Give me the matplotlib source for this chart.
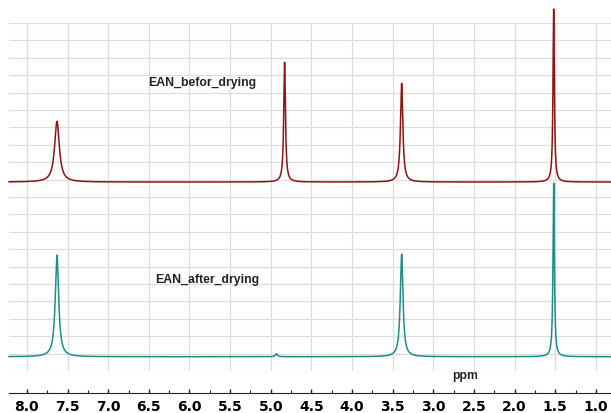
import matplotlib
matplotlib.use("Agg")
import matplotlib.pyplot as plt
import numpy as np
from matplotlib.ticker import MultipleLocator
from matplotlib.font_manager import FontProperties

plt.rcParams["font.weight"] = "bold"

# peak lists: position (ppm), height (grid units), width (ppm)
before_pos = [7.63, 4.83, 3.39, 1.52]
before_height = [3.49, 6.88, 5.67, 9.94]
before_width = [0.07, 0.025, 0.035, 0.02]

after_pos = [7.63, 4.93, 3.39, 1.52]
after_height = [5.84, 0.17, 5.90, 9.98]
after_width = [0.05, 0.03, 0.04, 0.02]

before_offset = 10.86
after_offset = 0.82

tick_labels = ["8.0", "7.5", "7.0", "6.5", "6.0", "5.5", "5.0", "4.5",
               "4.0", "3.5", "3.0", "2.5", "2.0", "1.5", "1.0"]


def spectrum(ppm, pos, height, width):
    y = np.zeros_like(ppm)
    for p, h, w in zip(pos, height, width):
        y += h / (1 + ((ppm - p) / (w / 2)) ** 2)
    return y


ppm = np.linspace(8.22, 0.815, 30000)

fig = plt.figure(figsize=(6.11, 4.14), dpi=100)
ax = fig.add_axes([9 / 611, 1 - 372 / 414, 602 / 611, 348 / 414])

ax.plot(ppm, before_offset + spectrum(ppm, before_pos, before_height, before_width),
        color="#8b1414", lw=1.1, clip_on=False, zorder=3)
ax.plot(ppm, after_offset + spectrum(ppm, after_pos, after_height, after_width),
        color="#1f8e86", lw=1.1, clip_on=False, zorder=3)

ax.set_xlim(8.22, 0.815)
ax.set_ylim(0, 20)
ax.xaxis.set_minor_locator(MultipleLocator(0.25))
ax.yaxis.set_major_locator(MultipleLocator(1))
ax.set_xticks([float(t) for t in tick_labels])
tick_font = FontProperties(family="DejaVu Sans", weight="bold", size=9)
ax.set_xticklabels(tick_labels, fontproperties=tick_font, color="#222222")
ax.tick_params(axis="x", which="major", direction="in", length=3, width=1, pad=4, color="#222222")
ax.tick_params(axis="x", which="minor", direction="in", length=2, width=0.8, color="#222222")
ax.tick_params(axis="y", left=False, labelleft=False)
ax.grid(True, which="major", color="#dddddd", lw=0.9)
ax.set_axisbelow(True)

for s in ["top", "left", "right"]:
    ax.spines[s].set_visible(False)
ax.spines["bottom"].set_position(("outward", 22 * 72 / 100))
ax.spines["bottom"].set_color("#222222")

fig.text(465 / 611, 1 - 376 / 414, "ppm", ha="center", va="center",
         fontsize=8.8, fontweight="bold", family="Liberation Sans", color="#222222")
fig.text(202 / 611, 1 - 83 / 414, "EAN_befor_drying", ha="center", va="center",
         fontsize=8.8, fontweight="bold", family="Liberation Sans", color="#222222")
fig.text(207 / 611, 1 - 280 / 414, "EAN_after_drying", ha="center", va="center",
         fontsize=8.8, fontweight="bold", family="Liberation Sans", color="#222222")

fig.savefig("out.png", dpi=100)
